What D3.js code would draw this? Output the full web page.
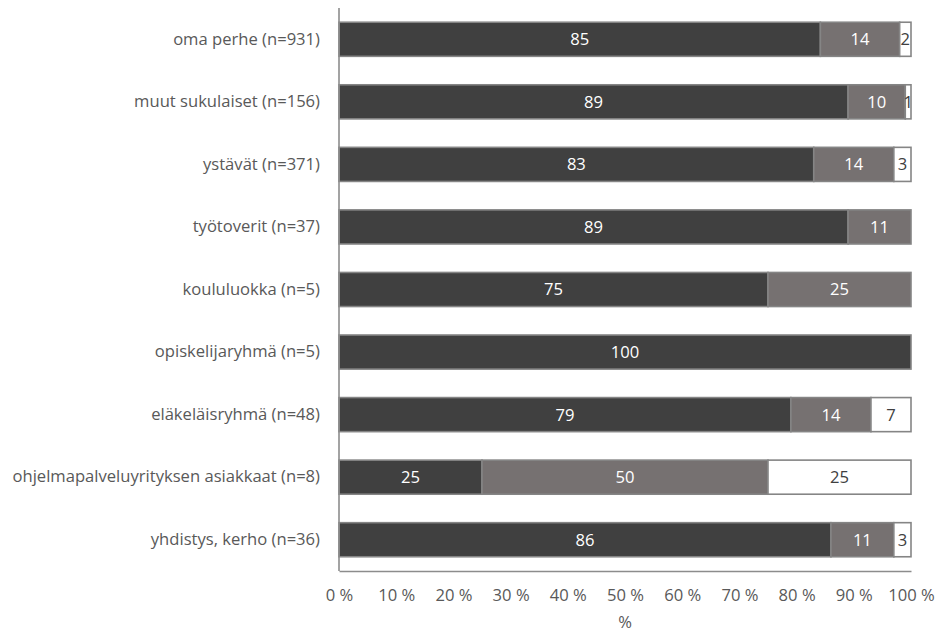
<!DOCTYPE html>
<html>
<head>
<meta charset="utf-8">
<script src="https://cdn.jsdelivr.net/npm/d3@7"></script>
<style>
  html, body { margin: 0; padding: 0; background: #fff; }
  svg { display: block; font-family: "Open Sans", sans-serif; }
</style>
</head>
<body>
<svg id="chart" width="939" height="635"></svg>
<script>
// Group categories, top to bottom
const categories = [
  "oma perhe (n=931)",
  "muut sukulaiset (n=156)",
  "ystävät (n=371)",
  "työtoverit (n=37)",
  "koululuokka (n=5)",
  "opiskelijaryhmä (n=5)",
  "eläkeläisryhmä (n=48)",
  "ohjelmapalveluyrityksen asiakkaat (n=8)",
  "yhdistys, kerho (n=36)"
];
// Shares (%) per response category
const seriesA = [85, 89, 83, 89, 75, 100, 79, 25, 86];
const seriesB = [14, 10, 14, 11, 25, 0, 14, 50, 11];
const seriesC = [2, 1, 3, 0, 0, 0, 7, 25, 3];
const xTicks = [0, 10, 20, 30, 40, 50, 60, 70, 80, 90, 100];
const xTitle = "%";

const keys = ["a", "b", "c"];
const fills = { a: "#404040", b: "#767171", c: "#ffffff" };
const textFill = { a: "#ffffff", b: "#ffffff", c: "#404040" };
const FONT = "'Open Sans', sans-serif";
const FS = 16.6;

const rows = categories.map((cat, i) => ({ cat, a: seriesA[i], b: seriesB[i], c: seriesC[i] }));

const svg = d3.select("#chart");
const margin = { left: 339, right: 28, top: 8, bottom: 64 };
const W = 939, H = 635;

const x = d3.scaleLinear().domain([0, 1]).range([margin.left, W - margin.right]);
const y = d3.scaleBand().domain(categories).range([margin.top, H - margin.bottom]).paddingInner(0.455).paddingOuter(0.2275);

const stacked = d3.stack().keys(keys).offset(d3.stackOffsetExpand)(rows);

const layers = svg.append("g").selectAll("g")
  .data(stacked).join("g");

layers.selectAll("rect")
  .data(s => s.map(d => ({ key: s.key, d })).filter(e => e.d.data[e.key] > 0))
  .join("rect")
  .attr("x", e => x(e.d[0]))
  .attr("y", e => y(e.d.data.cat))
  .attr("width", e => x(e.d[1]) - x(e.d[0]))
  .attr("height", y.bandwidth())
  .attr("fill", e => fills[e.key])
  .attr("stroke", "#858585")
  .attr("stroke-width", 1.6);

layers.selectAll("text")
  .data(s => s.map(d => ({ key: s.key, d })).filter(e => e.d.data[e.key] > 0))
  .join("text")
  .attr("x", e => (x(e.d[0]) + x(e.d[1])) / 2)
  .attr("y", e => y(e.d.data.cat) + y.bandwidth() / 2)
  .attr("dy", "0.36em")
  .attr("text-anchor", "middle")
  .attr("font-size", FS)
  .attr("font-family", FONT)
  .attr("fill", e => textFill[e.key])
  .text(e => e.d.data[e.key]);

// Category labels
const yAxis = svg.append("g")
  .attr("transform", `translate(${margin.left},0)`)
  .call(d3.axisLeft(y).tickSize(0).tickPadding(19));
yAxis.select(".domain").remove();
yAxis.selectAll("text")
  .attr("font-size", FS)
  .attr("font-family", FONT)
  .attr("fill", "#595959");

// Axis lines
const axisColor = "#8c8c8c";
svg.append("line")
  .attr("x1", margin.left).attr("x2", margin.left)
  .attr("y1", margin.top).attr("y2", H - margin.bottom)
  .attr("stroke", axisColor).attr("stroke-width", 1.6);

const xAxis = svg.append("g")
  .attr("transform", `translate(0,${H - margin.bottom})`)
  .call(d3.axisBottom(x).tickValues(xTicks.map(t => t / 100)).tickSize(0).tickPadding(18)
    .tickFormat((d, i) => xTicks[i] + " %"));
xAxis.select(".domain").attr("stroke", axisColor).attr("stroke-width", 1.6);
xAxis.selectAll("text")
  .attr("font-size", FS)
  .attr("font-family", FONT)
  .attr("fill", "#595959");

// Axis title
svg.append("text")
  .attr("x", (x(0) + x(1)) / 2)
  .attr("y", 623)
  .attr("dy", "0.32em")
  .attr("text-anchor", "middle")
  .attr("font-size", FS)
  .attr("font-family", FONT)
  .attr("fill", "#595959")
  .text(xTitle);
</script>
</body>
</html>
